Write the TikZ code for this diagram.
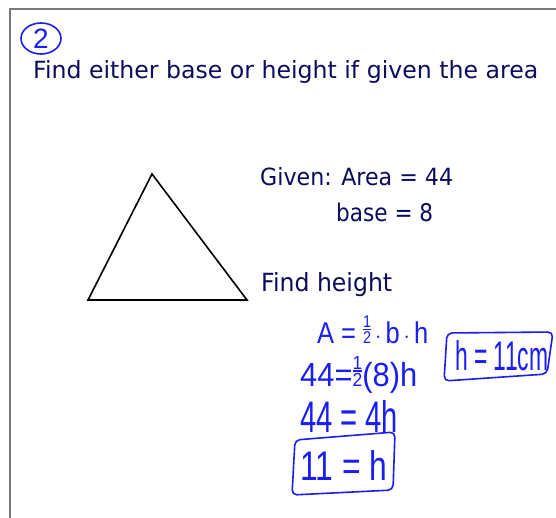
\documentclass[tikz,border=0pt]{standalone}
\usepackage{fontspec}
\usepackage{graphicx}
\usetikzlibrary{shapes.geometric}
\setmainfont{DejaVu Sans}
\newfontfamily\penfont{Liberation Sans}
\definecolor{ink}{HTML}{0C0C5E}
\definecolor{pen}{HTML}{1A1EF2}
\definecolor{framegray}{HTML}{7A7A7A}
\newcommand\hfr{{\fontsize{17}{17}\selectfont\vbox{\halign{\hfil##\hfil\cr 1\cr\noalign{\kern1pt\hrule height 1.4pt\kern1pt}2\cr}}}}
\newcommand\fitwh[3]{\resizebox{#1}{#2}{#3}}
\tikzset{
  printed/.style={anchor=base west, inner sep=0pt, text=ink, font=\fontsize{22}{26}\selectfont},
  hand/.style={anchor=base west, inner sep=0pt, text=pen, font=\penfont\fontsize{30}{32}\selectfont},
  penline/.style={draw=pen, line width=1.6pt, rounded corners=5pt, line join=round},
}
\begin{document}
\begin{tikzpicture}[x=1pt,y=-1pt]
\useasboundingbox (0,0) rectangle (556,518);
\fill[white] (0,0) rectangle (556,518);
% frame
\draw[framegray, line width=2pt] (10,518) -- (10,9) -- (556,9);
% circled number
\node[ellipse, draw=pen, line width=1.6pt, minimum width=40pt, minimum height=31pt, inner sep=0pt, text=pen, font=\penfont\fontsize{28}{28}\selectfont] (num) at (41,38.5) {2};
% title
\node[printed] (title) at (33,79) {\fitwh{505pt}{18pt}{Find either base or height if given the area}};
% triangle
\coordinate (T) at (152,174);
\coordinate (L) at (88,300);
\coordinate (R) at (247,300);
\draw[black, line width=1.6pt, line join=miter] (T) -- (L) -- (R) -- cycle;
% given
\node[printed] (given) at (260,186) {\fitwh{193pt}{18pt}{Given: Area = 44}};
\node[printed] (base) at (336,221.5) {\fitwh{97pt}{18.5pt}{base = 8}};
\node[printed] (find) at (261,292) {\fitwh{131pt}{19pt}{Find height}};
% handwritten work
\node[hand] (l1) at (317,343) {\fitwh{111pt}{27pt}{A = \hfr\,$\cdot$\,b\,$\cdot$\,h}};
\node[hand] (l2) at (300,386) {\fitwh{117pt}{30pt}{44=\hfr(8)h}};
\node[hand] (l3) at (300,432) {\fitwh{98pt}{32pt}{44 = 4h}};
\node[hand] (l4) at (300,480) {\fitwh{87pt}{30pt}{11 = h}};
\node[hand] (ans) at (455,370) {\fitwh{93pt}{30pt}{h = 11cm}};
% hand-drawn boxes
\draw[penline] (447,333) -- (553,332) -- (547,374) -- (444,381) -- cycle;
\draw[penline] (295,440) -- (395,432) -- (393,490) -- (292,495) -- cycle;
\end{tikzpicture}
\end{document}
